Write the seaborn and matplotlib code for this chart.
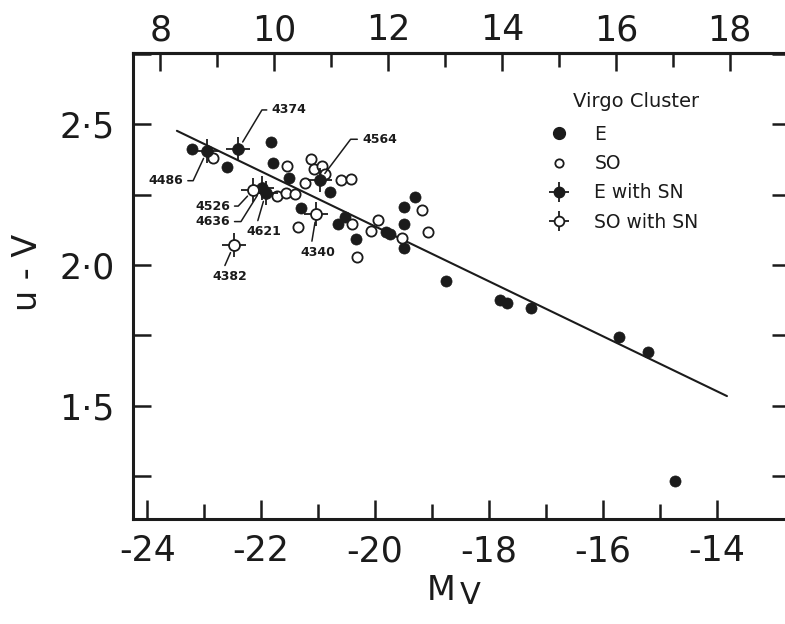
import numpy as np
import pandas as pd
import seaborn as sns
import matplotlib
matplotlib.use('Agg')
from matplotlib import pyplot as plt
from matplotlib.lines import Line2D
from matplotlib.ticker import MultipleLocator, FixedLocator, FuncFormatter
from matplotlib.legend_handler import HandlerTuple

###############
# Data        #
###############

# Virgo ellipticals without supernovae
e_mv = [-23.22, -22.60, -21.83, -21.80, -21.51, -21.30, -20.80, -20.65, -20.53, -20.33,
        -19.81, -19.73, -19.50, -19.49, -19.50, -19.29, -18.75, -17.80, -17.68, -17.26,
        -15.72, -15.20, -14.73]
e_uv = [2.410, 2.349, 2.435, 2.361, 2.307, 2.203, 2.260, 2.145, 2.169, 2.091,
        2.116, 2.110, 2.059, 2.145, 2.207, 2.240, 1.944, 1.875, 1.866, 1.849,
        1.744, 1.693, 1.234]

# Virgo S0s without supernovae
s0_mv = [-22.84, -21.55, -21.23, -21.13, -21.08, -20.94, -20.88, -20.59, -20.43, -21.72,
         -21.56, -21.41, -21.36, -20.41, -20.32, -20.07, -19.94, -19.53, -19.18, -19.07]
s0_uv = [2.378, 2.351, 2.292, 2.377, 2.339, 2.351, 2.323, 2.301, 2.306, 2.245,
         2.256, 2.252, 2.136, 2.145, 2.029, 2.122, 2.160, 2.095, 2.195, 2.118]

# galaxies that hosted a supernova
sn_ngc = ['4486', '4374', '4564', '4636', '4621', '4526', '4340', '4382']
sn_type = ['E', 'E', 'E', 'E', 'E', 'S0', 'S0', 'S0']
sn_mv = [-22.95, -22.40, -20.97, -21.99, -21.92, -22.14, -21.03, -22.48]
sn_uv = [2.405, 2.411, 2.301, 2.272, 2.254, 2.266, 2.181, 2.071]

# colour-magnitude relation (end points of the fitted line)
fit_mv = [-23.48, -13.82]
fit_uv = [2.476, 1.535]

# Virgo distance modulus used for the top (apparent magnitude) axis
dist_mod = 31.77

# tick values
mv_major = [-24, -22, -20, -18, -16, -14]
mv_minor = [-23, -21, -19, -17, -15]
mag_major = [8, 10, 12, 14, 16, 18]
mag_minor = [9, 11, 13, 15, 17]

###############
# Layout      #
###############

# label placement: (M_V, u-V, ha, relpos, connection)
label_pos = {
    '4486': (-23.37, 2.299, 'right', (1, 0.5), 'angle,angleA=0,angleB=65,rad=0'),
    '4374': (-21.82, 2.550, 'left', (0, 0.5), 'angle,angleA=0,angleB=59,rad=0'),
    '4564': (-20.23, 2.446, 'left', (0, 0.5), 'angle,angleA=0,angleB=53,rad=0'),
    '4636': (-22.55, 2.154, 'right', (1, 0.5), 'angle,angleA=0,angleB=58,rad=0'),
    '4621': (-21.96, 2.118, 'center', (0.3, 1), 'arc3,rad=0'),
    '4526': (-22.55, 2.209, 'right', (1, 0.5), 'angle,angleA=0,angleB=47,rad=0'),
    '4340': (-21.00, 2.045, 'center', (0.3, 1), 'arc3,rad=0'),
    '4382': (-22.55, 1.959, 'center', (0.3, 1), 'arc3,rad=0'),
}

ink = '#1b1b1b'

sns.set_style('ticks')
plt.rcParams['font.family'] = ['DejaVu Sans']
plt.rcParams['axes.unicode_minus'] = False

fig = plt.figure(figsize=(7.85, 6.24), dpi=100)
ax = fig.add_axes([133 / 785, 105 / 624, 657 / 785, 466 / 624])

df_e = pd.DataFrame({'MV': e_mv, 'uv': e_uv})
df_s0 = pd.DataFrame({'MV': s0_mv, 'uv': s0_uv})
df_sn = pd.DataFrame({'ngc': sn_ngc, 'type': sn_type, 'MV': sn_mv, 'uv': sn_uv})

# fitted relation
sns.lineplot(x=fit_mv, y=fit_uv, color=ink, linewidth=1.5, ax=ax, zorder=2)

# plain E and S0
sns.scatterplot(data=df_e, x='MV', y='uv', color=ink, edgecolor=ink, s=64,
                linewidth=0.5, ax=ax, zorder=3)
sns.scatterplot(data=df_s0, x='MV', y='uv', color='white', edgecolor=ink, s=54,
                linewidth=1.3, ax=ax, zorder=3)

# supernova hosts: cross under a circle
ax.scatter(df_sn['MV'], df_sn['uv'], marker='+', s=290, c=ink, linewidths=1.3, zorder=4)
sn_e = df_sn[df_sn['type'] == 'E']
sn_s0 = df_sn[df_sn['type'] == 'S0']
sns.scatterplot(data=sn_e, x='MV', y='uv', color=ink, edgecolor=ink, s=72,
                linewidth=0.5, ax=ax, zorder=5)
sns.scatterplot(data=sn_s0, x='MV', y='uv', color='white', edgecolor=ink, s=62,
                linewidth=1.3, ax=ax, zorder=5)

# NGC labels with leader lines
for name, mv, uv in zip(sn_ngc, sn_mv, sn_uv):
    lx, ly, ha, rp, conn = label_pos[name]
    ax.annotate(name, xy=(mv, uv), xytext=(lx, ly), ha=ha, va='center',
                fontsize=9, fontweight='bold', color=ink,
                arrowprops=dict(arrowstyle='-', color=ink, lw=1.1, relpos=rp,
                                connectionstyle=conn, shrinkA=1, shrinkB=6))

# axes ranges and ticks
ax.set_xlim(-24.251, -12.713)
ax.set_ylim(1.099, 2.752)
ax.xaxis.set_major_locator(FixedLocator(mv_major))
ax.xaxis.set_minor_locator(FixedLocator(mv_minor))
ax.xaxis.set_major_formatter(FuncFormatter(lambda v, p: '%d' % v))
ax.yaxis.set_major_locator(MultipleLocator(0.5))
ax.yaxis.set_minor_locator(MultipleLocator(0.25))
ax.yaxis.set_major_formatter(FuncFormatter(lambda v, p: ('%.1f' % v).replace('.', '\u00b7')))

ax.tick_params(which='both', direction='in', color=ink, width=1.8,
               top=False, right=True, labelsize=25, labelcolor=ink)
ax.tick_params(axis='x', which='major', length=14, pad=11)
ax.tick_params(axis='x', which='minor', length=11)
ax.tick_params(axis='y', which='both', length=13, pad=13)

for side in ['left', 'bottom', 'top', 'right']:
    ax.spines[side].set_visible(True)
    ax.spines[side].set_linewidth(2.2)
    ax.spines[side].set_color(ink)

top = ax.secondary_xaxis('top', functions=(lambda m: m + dist_mod, lambda m: m - dist_mod))
top.xaxis.set_major_locator(FixedLocator(mag_major))
top.xaxis.set_minor_locator(FixedLocator(mag_minor))
top.xaxis.set_major_formatter(FuncFormatter(lambda v, p: '%d' % v))
top.tick_params(which='both', direction='in', color=ink, width=1.8, labelsize=25,
                labelcolor=ink, pad=4)
top.tick_params(which='major', length=13)
top.tick_params(which='minor', length=10)
top.spines['top'].set_linewidth(2.2)
top.spines['top'].set_color(ink)

# axis labels
ax.set_xlabel('M', fontsize=24, color=ink)
ax.xaxis.set_label_coords(0.469, -0.118)
ax.annotate('V', xy=(1, 0), xycoords=ax.xaxis.label, xytext=(3, -2),
            textcoords='offset points', fontsize=22, color=ink, ha='left', va='bottom')
ax.set_ylabel('u - V', fontsize=24, color=ink)
ax.yaxis.set_label_coords(-0.135, 0.53)

# legend
ax.text(0.670, 0.895, 'Virgo Cluster', transform=ax.transAxes, fontsize=14,
        color=ink, ha='left', va='center')
h_e = Line2D([], [], ls='none', marker='o', color=ink, markersize=8.5)
h_s0 = Line2D([], [], ls='none', marker='o', mfc='white', mec=ink, mew=1.3, markersize=6)
h_cross = Line2D([], [], ls='none', marker='+', color=ink, mew=1.3, markersize=15)
h_esn = Line2D([], [], ls='none', marker='o', color=ink, markersize=7.5)
h_ssn = Line2D([], [], ls='none', marker='o', mfc='white', mec=ink, mew=1.3, markersize=7)
ax.legend([h_e, h_s0, (h_cross, h_esn), (h_cross, h_ssn)],
          ['E', 'SO', 'E with SN', 'SO with SN'],
          handler_map={tuple: HandlerTuple(ndivide=1)},
          loc='upper left', bbox_to_anchor=(0.628, 0.846), frameon=False,
          fontsize=13.5, labelcolor=ink, borderpad=0, borderaxespad=0,
          handlelength=1.4, handletextpad=1.2, labelspacing=0.55)

fig.savefig('out.png', dpi=100, facecolor='white')
